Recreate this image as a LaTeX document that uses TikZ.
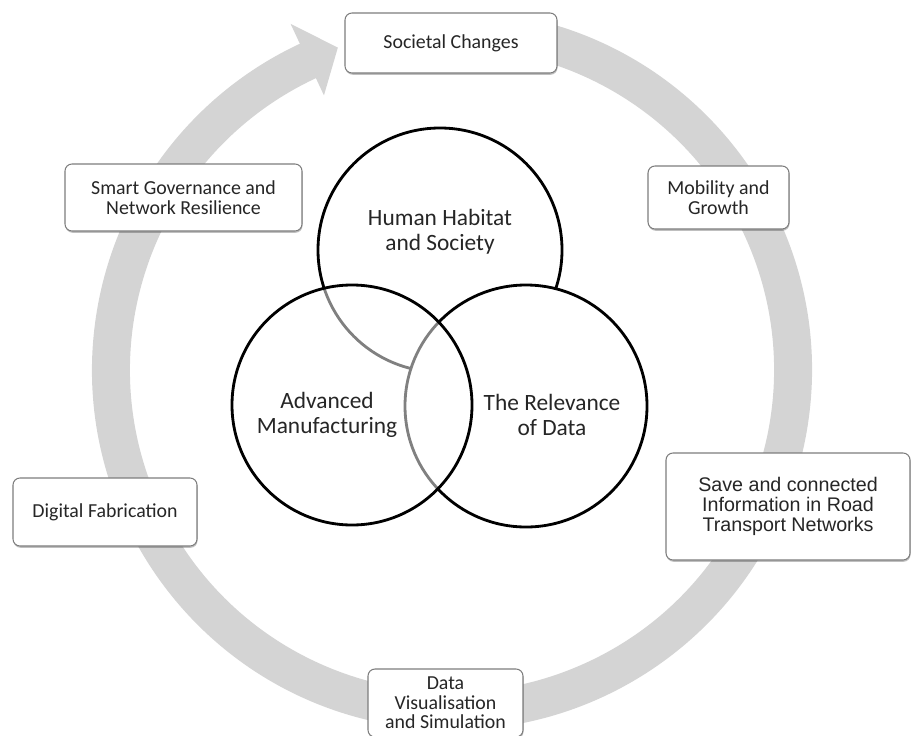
\documentclass[tikz,border=0pt]{standalone}
\usepackage{fontspec}
\setmainfont{Carlito}
\newfontfamily\arialfont{Liberation Sans}
\usetikzlibrary{shadows}
\definecolor{ringgray}{RGB}{212,212,212}
\definecolor{boxline}{RGB}{125,125,125}
\definecolor{inktext}{RGB}{38,38,38}

\begin{document}
\begin{tikzpicture}[x=0.2mm, y=0.2mm,
		topic/.style={draw=boxline, line width=0.6pt, fill=white, rounded corners=1.4mm,
			align=center, text=inktext, inner sep=0pt,
			font=\fontsize{11.3}{11.6}\selectfont,
			drop shadow={shadow xshift=0.3pt, shadow yshift=-1pt, opacity=0.25, fill=black}},
		venn/.style={line width=1.6pt, fill=white},
		theme/.style={align=center, text=inktext, font=\fontsize{13.3}{14.3}\selectfont}]
	\useasboundingbox (0,0) rectangle (911,735);
	\clip (0,0) rectangle (911,735);
	\def\cx{452}
	\def\cy{365}
	% grey cycle arrow
	\fill[ringgray] ([shift={(\cx,\cy)}]80:360) arc[start angle=80, end angle=-245, radius=360]
		-- ([shift={(\cx,\cy)}]115:382) -- ([shift={(\cx,\cy)}]109.5:342)
		-- ([shift={(\cx,\cy)}]115:303) -- ([shift={(\cx,\cy)}]115:322)
		arc[start angle=115, end angle=440, radius=322] -- cycle;
	% boxes on the cycle
	\node[topic, minimum width=212*0.2mm, minimum height=60*0.2mm] (societal) at (451,692) {Societal Changes};
	\node[topic, minimum width=141*0.2mm, minimum height=63*0.2mm] (mobility) at (718.5,537.5) {Mobility and\\Growth};
	\node[topic, minimum width=244*0.2mm, minimum height=107*0.2mm,
		font=\arialfont\fontsize{11.2}{11.5}\selectfont] (roadinfo) at (788,228.5) {Save and connected\\Information in Road\\Transport Networks};
	\node[topic, minimum width=155*0.2mm, minimum height=68*0.2mm,
		font=\fontsize{11.3}{11.1}\selectfont] (datavis) at (445.5,32) {Data\\Visualisation\\and Simulation};
	\node[topic, minimum width=184*0.2mm, minimum height=68*0.2mm] (fabrication) at (105,223) {Digital Fabrication};
	\node[topic, minimum width=237*0.2mm, minimum height=67*0.2mm] (governance) at (183.5,537.5) {Smart Governance and\\Network Resilience};
	% three circles
	\draw[venn] (440,485) circle (122);
	\draw[venn] (526,329) circle (121);
	\draw[venn, fill opacity=0.5] (352,330) circle (120);
	\node[theme] (habitat) at (440,503) {Human Habitat\\and Society};
	\node[theme] (manufacturing) at (327,320) {Advanced\\Manufacturing};
	\node[theme] (relevance) at (552,320) {The Relevance\\of Data};
\end{tikzpicture}
\end{document}
